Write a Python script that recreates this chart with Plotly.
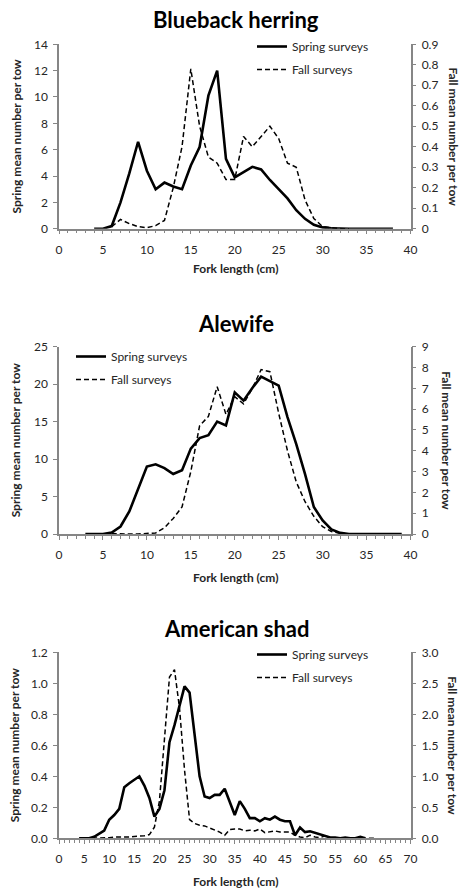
import plotly.graph_objects as go

# ---------------- data ----------------
bb_spring_len = list(range(4, 39))
bb_spring = [0, 0, 0.2, 2.0, 4.2, 6.6, 4.4, 3.0, 3.5, 3.2, 3.0, 4.8, 6.2, 10.1, 12.0,
             5.3, 3.9, 4.3, 4.7, 4.5, 3.7, 3.0, 2.3, 1.4, 0.75, 0.3, 0.1, 0.03,
             0, 0, 0, 0, 0, 0, 0]
bb_fall_len = list(range(6, 34))
bb_fall = [0.01, 0.045, 0.025, 0.01, 0.005, 0.015, 0.04, 0.2, 0.4, 0.78, 0.5, 0.35,
           0.32, 0.24, 0.24, 0.45, 0.40, 0.45, 0.50, 0.44, 0.32, 0.30, 0.14, 0.05,
           0.01, 0.005, 0, 0]

ale_spring_len = list(range(3, 40))
ale_spring = [0, 0, 0, 0.2, 1.0, 3.0, 6.0, 9.0, 9.3, 8.8, 8.0, 8.5, 11.4, 12.8, 13.2,
              15.0, 14.5, 18.9, 17.8, 19.5, 21.0, 20.4, 19.8, 15.6, 12.0, 8.0, 3.6,
              1.8, 0.6, 0.15, 0, 0, 0, 0, 0, 0, 0]
ale_fall_len = list(range(6, 34))
ale_fall = [0.02, 0.0, 0.0, 0.0, 0.02, 0.05, 0.3, 0.75, 1.3, 3.0, 5.2, 5.65, 7.08,
            5.75, 6.6, 6.25, 7.0, 7.9, 7.8, 5.8, 4.0, 2.5, 1.55, 0.85, 0.35, 0.12,
            0.03, 0]

shad_spring_len = list(range(4, 62))
shad_spring = [0, 0, 0, 0.01, 0.03, 0.05, 0.12, 0.15, 0.19, 0.33, 0.355, 0.38, 0.40,
               0.34, 0.26, 0.14, 0.19, 0.31, 0.62, 0.73, 0.86, 0.98, 0.94, 0.65,
               0.40, 0.27, 0.26, 0.28, 0.28, 0.32, 0.24, 0.15, 0.24, 0.19, 0.13,
               0.13, 0.11, 0.13, 0.12, 0.14, 0.12, 0.11, 0.11, 0.02, 0.07, 0.04,
               0.045, 0.035, 0.025, 0.015, 0.005, 0.005, 0.0, 0.005, 0.0, 0.0,
               0.01, 0.0]
shad_fall_len = list(range(5, 64))
shad_fall = [0, 0, 0, 0.005, 0.01, 0.01, 0.02, 0.02, 0.01, 0.02, 0.03, 0.03, 0.04,
             0.06, 0.18, 0.6, 1.6, 2.6, 2.72, 2.1, 1.1, 0.3, 0.24, 0.21, 0.2, 0.17,
             0.14, 0.1, 0.05, 0.14, 0.15, 0.15, 0.12, 0.13, 0.12, 0.15, 0.09, 0.11,
             0.12, 0.1, 0.1, 0.1, 0.05, 0.02, 0.01, 0.05, 0.02, 0.01, 0.04, 0.01,
             0, 0, 0, 0, 0, 0, 0, 0, 0]

titles = ["Blueback herring", "Alewife", "American shad"]
left_title = "Spring mean number per tow"
right_title = "Fall mean number per tow"
x_title = "Fork length (cm)"
series_names = ["Spring surveys", "Fall surveys"]

# ---------------- layout helpers ----------------
W, H = 460, 888
FONT = "Lato"
AX = "#868686"
TXT = "#262626"

def px_x(v):
    return v / W

def px_y(v):
    return 1 - v / H

X_DOM = [px_x(59), px_x(410.5)]
panels = [
    dict(top=44.3, bottom=228.7, xr=[0, 40], yl=[0, 14], dl=2, yr=[0, 0.9], dr=0.1,
         fl=None, fr=None, title_y=20, xt_y=268, lt_x=16, rt_x=453,
         leg=(252, 32)),
    dict(top=346.7, bottom=534, xr=[0, 40], yl=[0, 25], dl=5, yr=[0, 9], dr=1,
         fl=None, fr=None, title_y=323, xt_y=577, lt_x=15, rt_x=447,
         leg=(71, 342)),
    dict(top=652.3, bottom=838.3, xr=[0, 70], yl=[0, 1.2], dl=0.2, yr=[0, 3.0], dr=0.5,
         fl=".1f", fr=".1f", title_y=628, xt_y=881, lt_x=14, rt_x=453,
         leg=(252, 640)),
]

data_sets = [
    (bb_spring_len, bb_spring, bb_fall_len, bb_fall),
    (ale_spring_len, ale_spring, ale_fall_len, ale_fall),
    (shad_spring_len, shad_spring, shad_fall_len, shad_fall),
]

fig = go.Figure()
layout = dict(
    width=W, height=H, margin=dict(l=0, r=0, t=0, b=0, autoexpand=False),
    paper_bgcolor="white", plot_bgcolor="white",
    font=dict(family=FONT, size=12, color=TXT),
    annotations=[],
)

for i, (p, (sx, sy, fx, fy)) in enumerate(zip(panels, data_sets)):
    xa = "xaxis" if i == 0 else f"xaxis{i+1}"
    xref = "x" if i == 0 else f"x{i+1}"
    yl_n = 2 * i + 1
    yr_n = 2 * i + 2
    yla = "yaxis" if yl_n == 1 else f"yaxis{yl_n}"
    ylref = "y" if yl_n == 1 else f"y{yl_n}"
    yra = f"yaxis{yr_n}"
    yrref = f"y{yr_n}"
    leg = "legend" if i == 0 else f"legend{i+1}"

    fig.add_trace(go.Scatter(x=sx, y=sy, xaxis=xref, yaxis=ylref, mode="lines",
                             name=series_names[0], legend=leg, legendgroup=f"s{i}",
                             line=dict(color="black", width=2.6), cliponaxis=False))
    fig.add_trace(go.Scatter(x=fx, y=fy, xaxis=xref, yaxis=yrref, mode="lines",
                             name=series_names[1], legend=leg, legendgroup=f"f{i}",
                             line=dict(color="black", width=1.5, dash="5px,3px"),
                             cliponaxis=False))

    dom_y = [px_y(p["bottom"]), px_y(p["top"])]
    layout[xa] = dict(
        domain=X_DOM, anchor=ylref, range=p["xr"], dtick=5, tick0=0,
        automargin=False,
        showline=True, linecolor=AX, linewidth=1.5, showgrid=False, zeroline=False,
        ticks="outside", ticklen=4, tickcolor=AX, tickwidth=1,
        ticklabelstandoff=5,
        minor=dict(dtick=1, ticks="outside", ticklen=3, tickcolor=AX, tickwidth=1),
        tickfont=dict(size=12, color=TXT),
    )
    layout[yla] = dict(
        domain=dom_y, anchor=xref, range=p["yl"], dtick=p["dl"], tick0=0,
        automargin=False,
        showline=True, linecolor=AX, linewidth=1.5, showgrid=False, zeroline=False,
        ticks="outside", ticklen=4, tickcolor=AX, ticklabelstandoff=3,
        tickformat=p["fl"] if p["fl"] else None,
        tickfont=dict(size=12, color=TXT),
    )
    layout[yra] = dict(
        domain=dom_y, anchor=xref, overlaying=ylref, side="right",
        range=p["yr"], dtick=p["dr"], tick0=0, automargin=False,
        showline=True, linecolor=AX, linewidth=1.5, showgrid=False, zeroline=False,
        ticks="outside", ticklen=4, tickcolor=AX, ticklabelstandoff=3,
        tickformat=p["fr"] if p["fr"] else None,
        tickfont=dict(size=12, color=TXT),
    )
    layout[leg] = dict(
        x=px_x(p["leg"][0]), y=px_y(p["leg"][1]), xanchor="left", yanchor="top",
        xref="paper", yref="paper", bgcolor="rgba(0,0,0,0)", borderwidth=0,
        tracegroupgap=4, font=dict(size=12, color=TXT), itemwidth=30,
    )

    mid_y = (p["top"] + p["bottom"]) / 2
    layout["annotations"] += [
        dict(text=f"<b>{titles[i]}</b>", x=px_x(236), y=px_y(p["title_y"]),
             xref="paper", yref="paper", showarrow=False, xanchor="center",
             yanchor="middle", font=dict(size=22, color="black")),
        dict(text=f"<b>{x_title}</b>", x=px_x(235), y=px_y(p["xt_y"]),
             xref="paper", yref="paper", showarrow=False, xanchor="center",
             yanchor="middle", font=dict(size=12, color=TXT)),
        dict(text=f"<b>{left_title}</b>", x=px_x(p["lt_x"]), y=px_y(mid_y),
             xref="paper", yref="paper", showarrow=False, xanchor="center",
             yanchor="middle", textangle=-90, font=dict(size=12, color=TXT)),
        dict(text=f"<b>{right_title}</b>", x=px_x(p["rt_x"]), y=px_y(mid_y),
             xref="paper", yref="paper", showarrow=False, xanchor="center",
             yanchor="middle", textangle=90, font=dict(size=12, color=TXT)),
    ]

fig.update_layout(**layout)
fig.write_html(
    "out.html",
    config={"displayModeBar": False},
    post_script="document.body.style.margin='0px';document.body.style.padding='0px';"
                "document.body.style.overflow='hidden';",
)
